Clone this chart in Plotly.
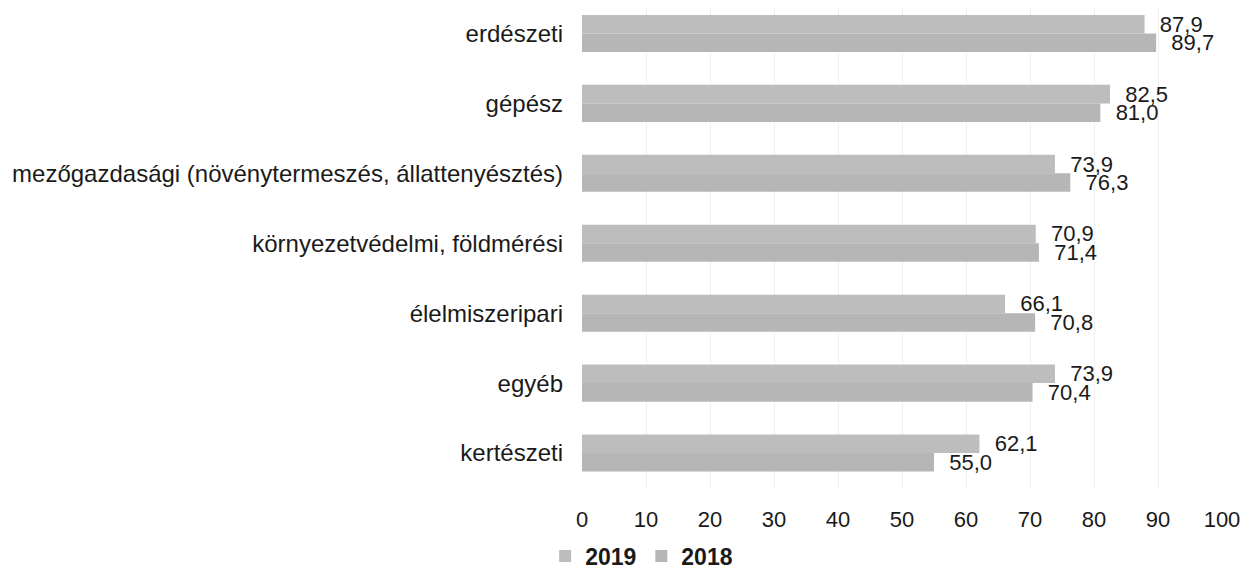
import plotly.graph_objects as go

categories = ["erdészeti", "gépész", "mezőgazdasági (növénytermeszés, állattenyésztés)",
              "környezetvédelmi, földmérési", "élelmiszeripari", "egyéb", "kertészeti"]
v2019 = [87.9, 82.5, 73.9, 70.9, 66.1, 73.9, 62.1]
v2018 = [89.7, 81.0, 76.3, 71.4, 70.8, 70.4, 55.0]

ff = "Liberation Sans, Arial"
num_font = dict(family=ff, size=22, color="#1a1a1a")
cat_font = dict(family=ff, size=24, color="#1a1a1a")


def lbl(vals):
    return ["\u00a0\u00a0" + f"{v:.1f}".replace(".", ",") for v in vals]


fig = go.Figure()
fig.add_trace(go.Bar(y=categories, x=v2019, name="2019", orientation="h",
                     marker=dict(color="#bdbdbd", line_width=0),
                     text=lbl(v2019), textposition="outside", cliponaxis=False,
                     constraintext="none", textfont=num_font))
fig.add_trace(go.Bar(y=categories, x=v2018, name="2018", orientation="h",
                     marker=dict(color="#b6b6b6", line_width=0),
                     text=lbl(v2018), textposition="outside", cliponaxis=False,
                     constraintext="none", textfont=num_font))

# page body adds an 8px margin, so keep the figure inside the window
fig.update_layout(
    width=1232, height=562,
    margin=dict(l=574, r=18, t=0, b=82, autoexpand=False),
    paper_bgcolor="white", plot_bgcolor="white",
    barmode="group", bargap=0.47, bargroupgap=0,
    font=num_font,
    showlegend=True,
    legend=dict(orientation="h", xref="container", yref="container",
                x=0.436, xanchor="left", y=0.025, yanchor="middle",
                font=dict(family=ff, size=23, color="#1a1a1a", weight="bold"),
                itemwidth=30),
)
fig.update_xaxes(range=[0, 100], dtick=10, showgrid=True, gridcolor="#f0f0f0",
                 zeroline=False, showline=False, ticklabelstandoff=16,
                 ticklabeloverflow="allow", tickfont=num_font, automargin=False)
fig.update_yaxes(range=[6.5, -0.364], showgrid=False, showline=False,
                 ticklabelstandoff=18, tickfont=cat_font, automargin=False)

fig.write_html("out.html")
